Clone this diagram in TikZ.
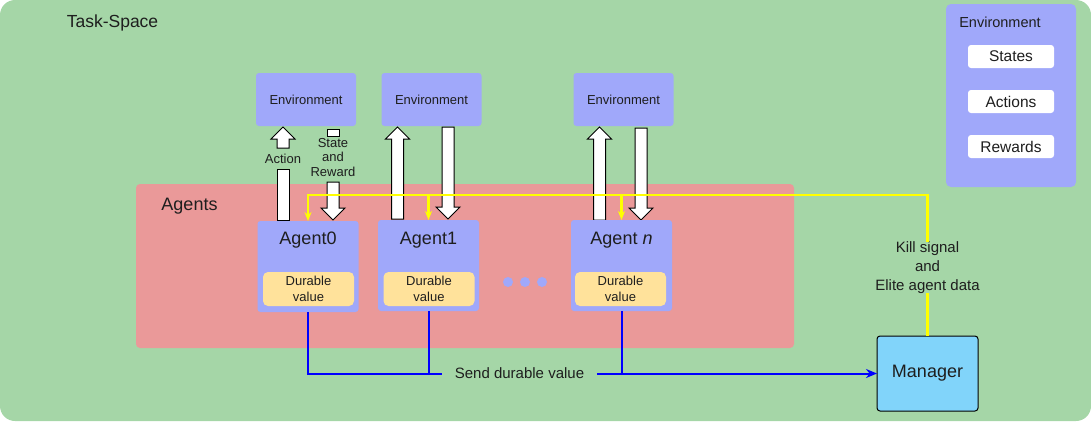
\documentclass[tikz,border=0pt]{standalone}
\usepackage{fontspec}
\setmainfont{Liberation Sans}
\usetikzlibrary{arrows.meta,calc}
\definecolor{bggreen}{HTML}{A5D6A7}
\definecolor{agpink}{HTML}{EA9999}
\definecolor{envblue}{HTML}{A0A8FA}
\definecolor{duryel}{HTML}{FFE29B}
\definecolor{mgrblue}{HTML}{81D4FA}
\definecolor{txt}{HTML}{1E1E1E}
\definecolor{sigyel}{HTML}{FFFF00}
\definecolor{sigblue}{HTML}{0000FF}
\newcommand\fsz[2]{\fontsize{#1}{#2}\selectfont}
\newcommand\uparr[3]{% x, tip y, bottom y
  \draw[fat] (#1-6,#3) -- (#1-6,#2+12) -- (#1-12,#2+12) -- (#1,#2) -- (#1+12,#2+12) -- (#1+6,#2+12) -- (#1+6,#3) -- cycle;}
\newcommand\downarr[3]{% x, top y, tip y
  \draw[fat] (#1-6,#2) -- (#1-6,#3-12) -- (#1-12,#3-12) -- (#1,#3) -- (#1+12,#3-12) -- (#1+6,#3-12) -- (#1+6,#2) -- cycle;}
\tikzset{
  fat/.style={fill=white, draw=black, line width=1pt, line join=miter},
  envbox/.style={fill=envblue, rounded corners=3pt, minimum width=100pt, minimum height=53pt, font=\fsz{13}{15}},
  agentbox/.style={fill=envblue, rounded corners=3pt, minimum width=101pt, minimum height=91pt},
  agtext/.style={font=\fsz{18}{21}},
  durbox/.style={fill=duryel, rounded corners=5pt, minimum width=91pt, minimum height=34pt, align=center, font=\fsz{13}{15.5}},
  legitem/.style={fill=white, rounded corners=3pt, minimum width=86pt, minimum height=23pt, font=\fsz{15.5}{18}},
  yline/.style={draw=sigyel, line width=2.2pt},
  bline/.style={draw=sigblue, line width=2pt},
  dot/.style={circle, fill=envblue, minimum size=10pt},
}
\begin{document}
\begin{tikzpicture}[x=1pt,y=-1pt, every node/.style={text=txt, inner sep=0pt, outer sep=0pt}]
\useasboundingbox (0,0) rectangle (1091,421);
\fill[bggreen, rounded corners=15pt] (0,0) rectangle (1091,421);
\node[font=\fsz{17.5}{20}] (ts) at (112.5,23) {Task-Space};

% legend
\node[fill=envblue, rounded corners=5pt, minimum width=130pt, minimum height=183pt] (lg) at (1011,95.5) {};
\node[font=\fsz{14.5}{17}] (lgt) at (1000,22) {Environment};
\node[legitem] (ls) at (1011,56.5) {States};
\node[legitem] (la) at (1011,101.5) {Actions};
\node[legitem] (lr) at (1011,146.5) {Rewards};

% agents area
\node[fill=agpink, rounded corners=4pt, minimum width=658pt, minimum height=164pt] (ag) at (465,266) {};
\node[font=\fsz{18}{21}] (agt) at (189.5,206) {Agents};

% environments
\node[envbox] (e1) at (306,99.5) {Environment};
\node[envbox] (e2) at (431.5,99.5) {Environment};
\node[envbox] (e3) at (623.5,99.5) {Environment};

% fat arrows
\uparr{283}{127}{148}
\draw[fat] (277,169) rectangle (289,220);
\node[font=\fsz{13}{15}] (act) at (283,159) {Action};
\draw[fat] (327,129) rectangle (339,136);
\downarr{333}{182}{220}
\node[font=\fsz{13}{14.5}, align=center] (sr) at (333,157.5) {State\\and\\Reward};
\uparr{397.5}{127}{219}
\downarr{448}{127}{219}
\uparr{599.5}{127}{220}
\downarr{641}{128}{220}

% agents
\node[agentbox] (a0) at (308,266.5) {};
\node[agentbox] (a1) at (428.5,265.5) {};
\node[agentbox] (an) at (621.5,265.5) {};
\node[agtext] (a0t) at (308,240) {Agent0};
\node[agtext] (a1t) at (428.5,240) {Agent1};
\node[agtext] (ant) at (621.5,240) {Agent \textit{n}};
\node[durbox] (d0) at (308.5,289) {Durable\\value};
\node[durbox] (d1) at (429,289) {Durable\\value};
\node[durbox] (dn) at (620.5,289) {Durable\\value};
\node[dot] (p1) at (508,282) {};
\node[dot] (p2) at (525,282) {};
\node[dot] (p3) at (542,282) {};

% manager
\node[fill=mgrblue, draw=black, line width=1pt, rounded corners=3pt, minimum width=101pt, minimum height=75pt, font=\fsz{18}{21}] (mgr) at (927.5,373.5) {Manager};
\node[font=\fsz{15}{19}, align=center] (kill) at (927.5,267.5) {Kill signal\\and\\Elite agent data};
\node[font=\fsz{15}{18}, minimum width=155pt] (sdv) at (519.5,373.5) {Send durable value};

% yellow signals
\coordinate (yc) at (927.5,195);
\draw[yline] (mgr.north) -- (kill.south);
\draw[yline, -{Stealth[length=9pt,width=7pt]}] (kill.north) -- (yc) -- (yc -| a0.north) -- (a0.north);
\draw[yline, -{Stealth[length=9pt,width=7pt]}] (yc -| a1.north) -- (a1.north);
\draw[yline, -{Stealth[length=9pt,width=7pt]}] (yc -| an.north) -- (an.north);

% blue signals
\draw[bline] (a0.south) |- (sdv.west);
\draw[bline] (a1.south) -- (a1.south |- sdv.west);
\draw[bline] (an.south) -- (an.south |- sdv.east);
\draw[bline, -{Stealth[length=11pt,width=9pt]}] (sdv.east) -- (mgr.west);
\end{tikzpicture}
\end{document}
